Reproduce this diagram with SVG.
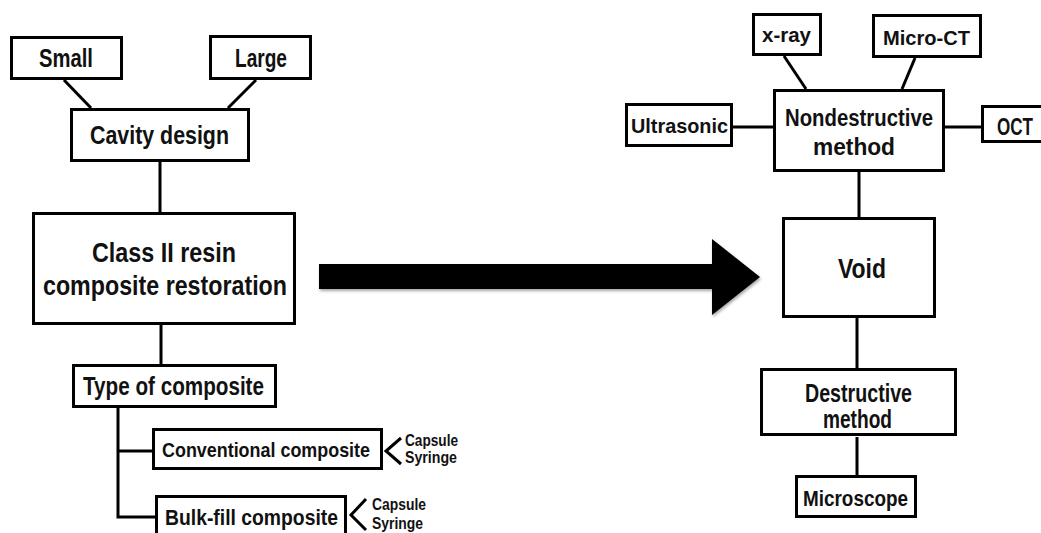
<svg xmlns="http://www.w3.org/2000/svg" width="1041" height="533" viewBox="0 0 1041 533">
<style>
.box{fill:#fff;stroke:#000;stroke-width:3}
.ln{fill:none;stroke:#000;stroke-width:3}
text{font-family:"Liberation Sans",Arial,sans-serif;font-weight:bold;text-anchor:middle;fill:#111}
.s{text-anchor:start;font-size:17px}
</style>
<defs>
<filter id="sh" x="-5%" y="-20%" width="110%" height="140%"><feDropShadow dx="1" dy="2" stdDeviation="1.5" flood-color="#000" flood-opacity="0.35"/></filter>
</defs>
<rect width="1041" height="533" fill="#fff"/>
<g id="connectors">
<path class="ln" d="M64,80 L91,108 M256,80 L228,108 M160,162 V212 M161,325 V365 M118,407 V517 H155 M118,451 H152"/>
<path class="ln" d="M401,438 L386,451 L401,464 M366,499 L351,515 L366,530" stroke-width="3.5"/>
<path class="ln" d="M733,127 H773 M945,127 H981 M784,56 L806,89 M915,58 L902,89 M859,172 V217 M857,318 V368 M857,437 V475"/>
<polygon id="big-arrow" points="319,264 712,264 712,239 760,277 712,315 712,289 319,289" fill="#000" filter="url(#sh)"/>
</g>
<g id="small"><rect class="box" x="11.5" y="37.5" width="110" height="41"/><text x="66" y="67" font-size="25" textLength="54" lengthAdjust="spacingAndGlyphs">Small</text></g>
<g id="large"><rect class="box" x="210.5" y="36.5" width="100" height="42"/><text x="261" y="67" font-size="25" textLength="52" lengthAdjust="spacingAndGlyphs">Large</text></g>
<g id="cavity"><rect class="box" x="71.5" y="109.5" width="177" height="51"/><text x="159.5" y="144" font-size="26" textLength="139" lengthAdjust="spacingAndGlyphs">Cavity design</text></g>
<g id="class2"><rect class="box" x="33.5" y="213.5" width="261" height="110"/><text x="164" y="262" font-size="27" textLength="144" lengthAdjust="spacingAndGlyphs">Class II resin</text><text x="165" y="295" font-size="27" textLength="244" lengthAdjust="spacingAndGlyphs">composite restoration</text></g>
<g id="type"><rect class="box" x="73.5" y="365.5" width="202" height="41"/><text x="173.5" y="395" font-size="25" textLength="181" lengthAdjust="spacingAndGlyphs">Type of composite</text></g>
<g id="conventional"><rect class="box" x="153.5" y="429.5" width="228" height="39"/><text x="266" y="457" font-size="21" textLength="208" lengthAdjust="spacingAndGlyphs">Conventional composite</text></g>
<g id="conv-options"><text class="s" x="405" y="446" textLength="53" lengthAdjust="spacingAndGlyphs">Capsule</text><text class="s" x="405" y="463" textLength="52" lengthAdjust="spacingAndGlyphs">Syringe</text></g>
<g id="bulkfill"><rect class="box" x="156.5" y="496.5" width="189" height="50"/><text x="251.5" y="525" font-size="22" textLength="173" lengthAdjust="spacingAndGlyphs">Bulk-fill composite</text></g>
<g id="bulk-options"><text class="s" x="372" y="510" textLength="54" lengthAdjust="spacingAndGlyphs">Capsule</text><text class="s" x="372" y="529" textLength="51" lengthAdjust="spacingAndGlyphs">Syringe</text></g>
<g id="xray"><rect class="box" x="753.5" y="14.5" width="67" height="40"/><text x="786.5" y="42" font-size="21" textLength="49" lengthAdjust="spacingAndGlyphs">x-ray</text></g>
<g id="microct"><rect class="box" x="873.5" y="15.5" width="107" height="41"/><text x="926.5" y="45" font-size="20" textLength="87" lengthAdjust="spacingAndGlyphs">Micro-CT</text></g>
<g id="ultrasonic"><rect class="box" x="626.5" y="104.5" width="105" height="41"/><text x="679.5" y="133" font-size="21" textLength="97" lengthAdjust="spacingAndGlyphs">Ultrasonic</text></g>
<g id="nondestructive"><rect class="box" x="774.5" y="90.5" width="169" height="80"/><text x="859" y="126" font-size="24" textLength="148" lengthAdjust="spacingAndGlyphs">Nondestructive</text><text x="854" y="155" font-size="24" textLength="82" lengthAdjust="spacingAndGlyphs">method</text></g>
<g id="oct"><rect class="box" x="982.5" y="106.5" width="80" height="35"/><text x="1015" y="135" font-size="23" textLength="36" lengthAdjust="spacingAndGlyphs">OCT</text></g>
<g id="void"><rect class="box" x="783.5" y="218.5" width="151" height="98"/><text x="862" y="278" font-size="28" textLength="48" lengthAdjust="spacingAndGlyphs">Void</text></g>
<g id="destructive"><rect class="box" x="761.5" y="369.5" width="194" height="65"/><text x="858.5" y="402" font-size="25" textLength="107" lengthAdjust="spacingAndGlyphs">Destructive</text><text x="857.5" y="428" font-size="25" textLength="69" lengthAdjust="spacingAndGlyphs">method</text></g>
<g id="microscope"><rect class="box" x="796.5" y="476.5" width="119" height="40"/><text x="855.5" y="506" font-size="22" textLength="105" lengthAdjust="spacingAndGlyphs">Microscope</text></g>
</svg>
